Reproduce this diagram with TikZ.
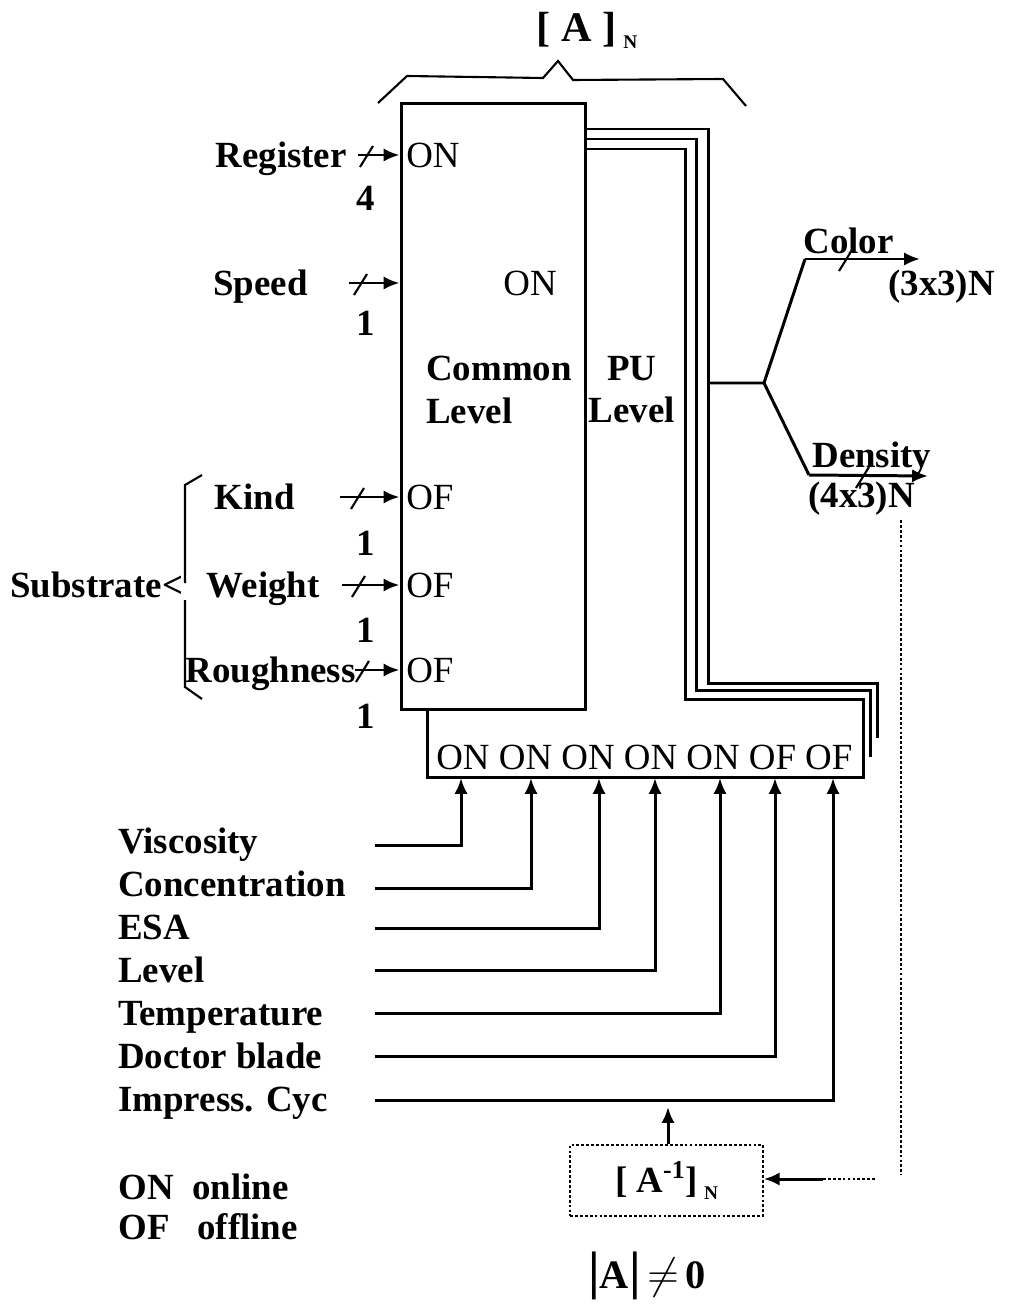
\documentclass[tikz,border=0pt]{standalone}
\usepackage{fontspec}
\setmainfont{Liberation Serif}
\usetikzlibrary{arrows.meta, positioning, calc}

\tikzset{
    txt/.style={inner sep=0pt, text height=13.9pt, text depth=0pt},
    lbl/.style={txt, font=\bfseries\fontsize{21}{24}\selectfont},
    sig/.style={txt, font=\fontsize{21}{24}\selectfont},
    block/.style={inner sep=0pt, font=\bfseries\fontsize{21}{24}\selectfont},
    wire/.style={line width=1.7pt},
    thin/.style={line width=1.2pt},
    feed/.style={wire, -{Latex[length=9pt, width=7.5pt]}},
    dots/.style={line width=0.9pt, dash pattern=on 1.6pt off 1.2pt},
}
\newcommand{\busmark}[1]{\draw[thin] ($(#1)+(-7,12)$) -- ($(#1)+(6,-9)$);}

\begin{document}
\begin{tikzpicture}[x=0.02cm, y=-0.02cm]
    \useasboundingbox (0,0) rectangle (1016,1307);

    \node[draw, wire, inner sep=0pt, minimum width=3.7cm, minimum height=12.14cm] (unit) at (493.5,406.5) {};
    \node[sig, anchor=west] (on-reg) at (406,155) {ON};
    \node[sig] (on-spd) at (530,283) {ON};
    \node[sig, anchor=west] (of-kind) at (406,497) {OF};
    \node[sig, anchor=west] (of-wgt) at (406,585) {OF};
    \node[sig, anchor=west] (of-rgh) at (406,670) {OF};
    \node[block, align=left, anchor=west] (common) at (426,390) {Common\\Level};
    \node[block, align=center] (pu) at (632,390) {PU\\Level};

    \node[block, font=\bfseries\fontsize{24}{24}\selectfont] (amat) at (587,30) {[ A ]\,\raisebox{-4pt}{\fontsize{11}{11}\selectfont N}};
    \draw[thin] (378,103) -- (407,76) -- (543,78) -- (558,61) -- (573,80) -- (723,79) -- (746,106);

    \foreach \name/\txt/\tx/\ty/\ax/\sx/\ny/\num in {
        reg/Register/347/155/358/367/198/4,
        spd/Speed/308/283/349/361/323/1,
        kind/Kind/295/497/340/358/543/1,
        wgt/Weight/320/585/342/359/630/1,
        rgh/Roughness/356/670/355/363/716/1}{
        \node[lbl, anchor=east] (\name) at (\tx,\ty) {\txt};
        \coordinate (\name-in) at (\ax,\ty);
        \coordinate (\name-cut) at (\sx,\ty);
        \draw[feed] (\name-in) -- (\name-in -| unit.west);
        \busmark{\name-cut}
        \node[lbl] (\name-n) at (366,\ny) {\num};
    }

    \node[lbl, anchor=west] (sub) at (10,585) {Substrate<};
    \draw[thin] (202,475) -- (185,485) -- (185,583);
    \draw[thin] (185,600) -- (185,687) -- (202,699);

    \draw[wire] (427,710) -- (427,777) -- (863,777) -- (863,699) -- (685,699) -- (685,149) -- (unit.east |- 0,149);
    \draw[wire] (unit.east |- 0,139) -- (696,139) -- (696,690) -- (870,690) -- (870,757);
    \draw[wire] (unit.east |- 0,129) -- (708,129) -- (708,683) -- (877,683) -- (877,738);
    \node[sig, anchor=west] (modes) at (436,757) {ON ON ON ON ON OF OF};

    \foreach \name/\txt/\ty/\wy/\ax in {
        visc/Viscosity/841/845/461,
        conc/Concentration/884/888/531,
        esa/ESA/927/928/599,
        lvl/Level/970/970/655,
        temp/Temperature/1013/1013/720,
        doc/Doctor blade/1056/1056/775,
        cyc/Impress. Cyc/1099/1100/833}{
        \node[lbl, anchor=west] (\name) at (118,\ty) {\txt};
        \coordinate (\name-in) at (375,\wy);
        \coordinate (\name-top) at (\ax,778);
        \draw[feed] (\name-in) -| (\name-top);
    }

    \node[lbl, anchor=west] (key-on) at (118,1187) {ON~~online};
    \node[lbl, anchor=west] (key-of) at (118,1227) {OF~~~offline};

    \coordinate (pu-out) at (708,383);
    \coordinate (split) at (764,383);
    \coordinate (col-knee) at (805,259);
    \coordinate (col-end) at (920,259);
    \coordinate (col-cut) at (846,259);
    \coordinate (den-knee) at (809,475);
    \coordinate (den-end) at (928,476);
    \coordinate (den-cut) at (863,476);
    \draw[wire] (pu-out) -- (split) -- (col-knee);
    \draw[wire] (split) -- (den-knee);
    \draw[feed] (col-knee) -- (col-end);
    \draw[feed] (den-knee) -- (den-end);
    \busmark{col-cut}
    \busmark{den-cut}
    \node[lbl, anchor=west] (color) at (803,241) {Color};
    \node[lbl, anchor=west] (col-size) at (888,283) {(3x3)N};
    \node[lbl, anchor=west] (density) at (812,455) {Density};
    \node[lbl, anchor=west] (den-size) at (808,495) {(4x3)N};

    \node[draw, dots, block, minimum width=3.86cm, minimum height=1.42cm] (inv) at (666.5,1180.5)
        {[ A\textsuperscript{-1}]\,\raisebox{-4pt}{\fontsize{11}{11}\selectfont N}};
    \coordinate (inv-up) at (668,1107);
    \draw[feed] (inv.north -| inv-up) -- (inv-up);
    \coordinate (fb-top) at (901,520);
    \coordinate (fb-bot) at (901,1175);
    \coordinate (fb-dash) at (875,1179);
    \coordinate (fb-arrow) at (823,1179);
    \draw[dots] (fb-top) -- (fb-bot);
    \draw[dots] (fb-dash) -- (fb-arrow);
    \draw[feed] (fb-arrow) -- (inv.east |- fb-arrow);

    \node[block, font=\bfseries\fontsize{23}{23}\selectfont] (det) at (647,1276) {{\fontsize{30}{30}\selectfont|}A{\fontsize{30}{30}\selectfont|}\,$\neq$\,0};
\end{tikzpicture}
\end{document}
